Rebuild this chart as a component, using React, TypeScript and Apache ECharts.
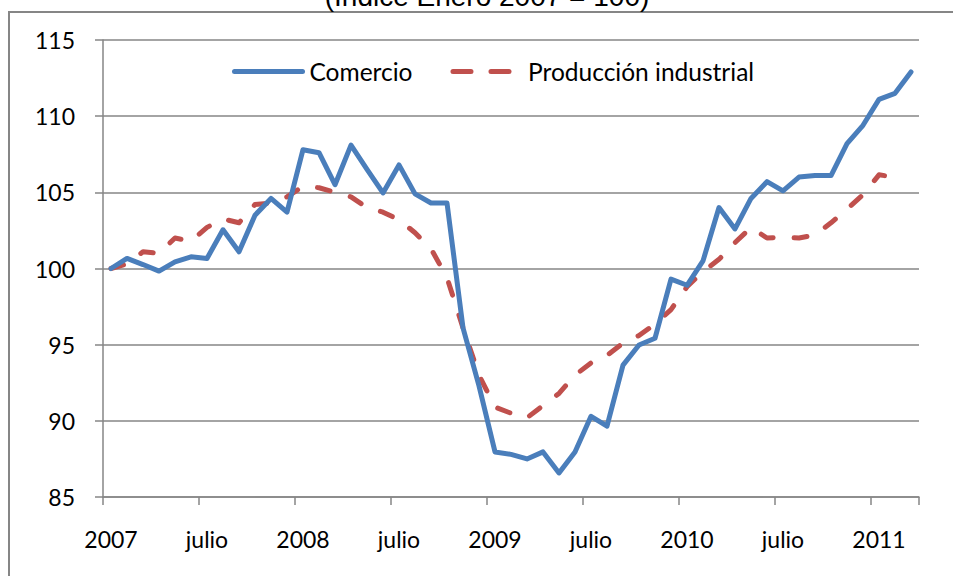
import React, { useEffect, useRef } from "react";
import * as echarts from "echarts";

const years = ["2007", "2008", "2009", "2010", "2011"];
const monthCodes = ["01", "02", "03", "04", "05", "06", "07", "08", "09", "10", "11", "12"];
const categories: string[] = [];
years.forEach((y) => monthCodes.forEach((m) => categories.push(`${y}-${m}`)));
categories.splice(51);

const xTickLabels = ["2007", "julio", "2008", "julio", "2009", "julio", "2010", "julio", "2011"];
const yTicks = { min: 85, max: 115, step: 5 };

const seriesNames = ["Comercio", "Producción industrial"];

const comercio = [
  100.0, 100.66, 100.26, 99.83, 100.44, 100.77, 100.66, 102.54, 101.1, 103.5,
  104.6, 103.7, 107.8, 107.6, 105.5, 108.1, 106.5, 104.96, 106.8, 104.9,
  104.3, 104.3, 96.1, 92.3, 87.96, 87.8, 87.5, 87.96, 86.58, 87.96,
  90.3, 89.65, 93.66, 94.98, 95.42, 99.3, 98.9, 100.5, 104.0, 102.6,
  104.6, 105.7, 105.1, 106.0, 106.1, 106.1, 108.2, 109.4, 111.1, 111.5, 112.9,
];

const produccion = [
  100.0, 100.3, 101.1, 101.0, 102.0, 101.8, 102.7, 103.25, 103.0, 104.2,
  104.3, 104.7, 105.4, 105.3, 105.0, 104.7, 104.0, 103.7, 103.2, 102.35,
  101.3, 99.4, 96.1, 93.0, 90.9, 90.5, 90.2, 91.0, 91.8, 93.0,
  93.8, 94.3, 95.1, 95.6, 96.35, 97.3, 98.8, 99.8, 100.6, 101.7,
  102.7, 102.0, 102.05, 102.0, 102.2, 103.0, 103.9, 104.85, 106.15, 106.0, null,
];

const FONT = "Lato";
const GREY = "#868686";
const BLUE = "#4a7ebb";
const RED = "#c0504d";

export default function App() {
  const ref = useRef<HTMLDivElement>(null);
  useEffect(() => {
    if (!ref.current) return;
    const chart = echarts.init(ref.current, undefined, { renderer: "svg" });
    chart.setOption({
      animation: false,
      backgroundColor: "#ffffff",
      textStyle: { fontFamily: FONT },
      grid: { left: 103, right: 34, top: 40, bottom: 79, containLabel: false },
      legend: {
        left: 232,
        top: 59,
        padding: 0,
        itemWidth: 68,
        itemHeight: 14,
        itemGap: 38,
        itemStyle: { opacity: 0 },
        lineStyle: { width: 5, cap: "round" },
        textStyle: { fontSize: 24.5, color: "#000", fontFamily: FONT, padding: [0, 0, 0, 2] },
        data: [
          { name: seriesNames[0], lineStyle: { width: 5, color: BLUE, cap: "round" } },
          { name: seriesNames[1], lineStyle: { width: 5, color: RED, type: [18, 20], cap: "round" } },
        ],
      },
      xAxis: {
        type: "category",
        data: categories,
        boundaryGap: true,
        axisLine: { lineStyle: { color: GREY, width: 1.5 } },
        axisTick: { show: true, interval: 5, length: 8, lineStyle: { color: GREY, width: 1.5 } },
        axisLabel: {
          interval: 5,
          margin: 30,
          fontSize: 23,
          color: "#000",
          fontFamily: FONT,
          formatter: (_v: string, i: number) => xTickLabels[Math.round(i / 6)] ?? "",
        },
        splitLine: { show: false },
      },
      yAxis: {
        type: "value",
        min: yTicks.min,
        max: yTicks.max,
        interval: yTicks.step,
        axisLine: { show: true, lineStyle: { color: GREY, width: 1.5 } },
        axisTick: { show: true, length: 8, lineStyle: { color: GREY, width: 1.5 } },
        axisLabel: { margin: 28, fontSize: 23, color: "#000", fontFamily: FONT },
        splitLine: { show: true, lineStyle: { color: GREY, width: 1.5 } },
      },
      series: [
        {
          name: seriesNames[0],
          type: "line",
          data: comercio,
          symbol: "none",
          smooth: false,
          z: 3,
          lineStyle: { color: BLUE, width: 5, cap: "round", join: "round" },
          itemStyle: { color: BLUE },
        },
        {
          name: seriesNames[1],
          type: "line",
          data: produccion,
          symbol: "none",
          smooth: false,
          z: 2,
          lineStyle: { color: RED, width: 5, type: [13, 21], cap: "round", join: "round" },
          itemStyle: { color: RED },
        },
      ],
      graphic: [
        {
          type: "rect",
          z: -10,
          silent: true,
          shape: { x: 9, y: 12, width: 1000, height: 700 },
          style: { fill: "none", stroke: GREY, lineWidth: 2 },
        },
        {
          type: "text",
          silent: true,
          style: {
            text: "(Índice Enero 2007 = 100)",
            x: 487,
            y: -4,
            fill: "#000",
            fontSize: 28,
            fontFamily: "Liberation Sans",
            textAlign: "center",
            textVerticalAlign: "middle",
          },
        },
      ],
    });
    return () => chart.dispose();
  }, []);
  return (
    <div
      ref={ref}
      style={{ position: "absolute", left: 0, top: 0, width: 953, height: 576, background: "#fff" }}
    />
  );
}
